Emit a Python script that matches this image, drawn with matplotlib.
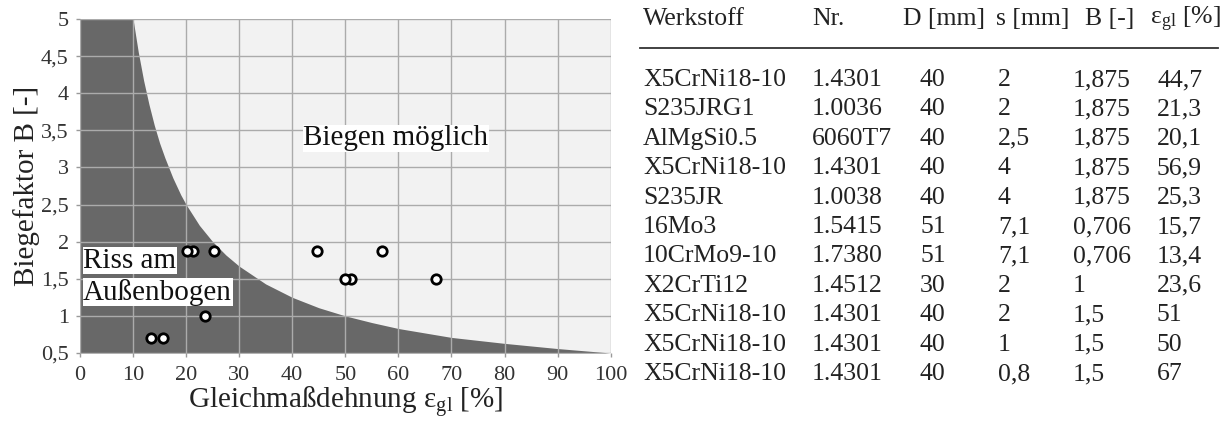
import matplotlib
matplotlib.use('Agg')
import matplotlib.pyplot as plt

plt.rcParams['font.family'] = ['Liberation Serif', 'DejaVu Serif']
plt.rcParams['mathtext.fontset'] = 'custom'
plt.rcParams['mathtext.rm'] = 'Liberation Serif'
plt.rcParams['mathtext.it'] = 'Liberation Serif:italic'

# boundary between "crack" and "bend ok" zones
limit_eps = [0, 10, 11, 12, 13, 14, 15, 16, 17.5, 19, 20, 22.5, 25, 27.5, 30, 35,
             40, 45, 50, 55, 60, 65, 70, 80, 90, 100]
limit_b = [5.0, 5.0, 4.55, 4.17, 3.85, 3.57, 3.33, 3.13, 2.86, 2.63, 2.5, 2.22, 2.0,
           1.82, 1.67, 1.43, 1.25, 1.11, 1.0, 0.91, 0.83, 0.77, 0.71, 0.63, 0.56, 0.5]

# test table
werkstoff = ['X5CrNi18-10', 'S235JRG1', 'AlMgSi0.5', 'X5CrNi18-10', 'S235JR', '16Mo3',
             '10CrMo9-10', 'X2CrTi12', 'X5CrNi18-10', 'X5CrNi18-10', 'X5CrNi18-10']
nr = ['1.4301', '1.0036', '6060T7', '1.4301', '1.0038', '1.5415', '1.7380', '1.4512',
      '1.4301', '1.4301', '1.4301']
d_mm = ['40', '40', '40', '40', '40', '51', '51', '30', '40', '40', '40']
s_mm = ['2', '2', '2,5', '4', '4', '7,1', '7,1', '2', '2', '1', '0,8']
b_val = ['1,875', '1,875', '1,875', '1,875', '1,875', '0,706', '0,706', '1', '1,5', '1,5', '1,5']
eps_gl = ['44,7', '21,3', '20,1', '56,9', '25,3', '15,7', '13,4', '23,6', '51', '50', '67']

x_ticks = [0, 10, 20, 30, 40, 50, 60, 70, 80, 90, 100]
y_ticks = [0.5, 1, 1.5, 2, 2.5, 3, 3.5, 4, 4.5, 5]
y_tick_labels = ['0,5', '1', '1,5', '2', '2,5', '3', '3,5', '4', '4,5', '5']

pts_x = [float(v.replace(',', '.')) for v in eps_gl]
pts_y = [float(v.replace(',', '.')) for v in b_val]

fig = plt.figure(figsize=(12.3, 4.21), dpi=100)
ax = fig.add_axes([0.065, 0.1615, 0.4315, 0.7935])

ax.set_facecolor('#f2f2f2')
ax.fill_between(limit_eps, 0.5, limit_b, color='#686868', lw=0, zorder=1)
ax.scatter(pts_x, pts_y, s=46, facecolor='white', edgecolor='black', linewidths=2.0, zorder=4)

ax.set_xlim(0, 100)
ax.set_ylim(0.5, 5)
ax.set_xticks(x_ticks)
ax.set_yticks(y_ticks)
ax.set_yticklabels(y_tick_labels)
ax.grid(True, color='#ababab', lw=1.0)
ax.set_axisbelow(False)
for sp in ax.spines.values():
    sp.set_visible(False)
ax.tick_params(axis='both', length=3, width=1, color='#999999', labelsize=16,
               labelcolor='#333333')
ax.tick_params(axis='x', pad=6)
ax.tick_params(axis='y', pad=5)

ax.set_xlabel(r'Gleichmaßdehnung $\mathrm{\varepsilon}_{\mathrm{gl}}$ [%]',
              fontsize=21, color='#222222', labelpad=0)
ax.set_ylabel('Biegefaktor B [-]', fontsize=21, color='#222222', labelpad=1)

box = dict(facecolor='white', edgecolor='none', pad=0.5)
ax.text(59.5, 3.39, 'Biegen möglich', fontsize=21, ha='center', va='center',
        bbox=box, zorder=5, color='#111111')
ax.text(0.6, 1.745, 'Riss am', fontsize=21, ha='left', va='center',
        bbox=box, zorder=5, color='#111111')
ax.text(0.6, 1.32, 'Außenbogen', fontsize=21, ha='left', va='center',
        bbox=box, zorder=5, color='#111111')

# table on the right, positions in figure pixels
W, H = 1230.0, 421.0
fs = 18.5
headers = ['Werkstoff', 'Nr.', 'D [mm]', 's [mm]', 'B [-]',
           r'$\mathrm{\varepsilon}_{\mathrm{gl}}$ [%]']
head_x = [643, 812, 903, 996, 1085, 1150]
col_x = [643, 812, 920, 998, 1073, 1157]
for hx, h in zip(head_x, headers):
    fig.text(hx / W, 1 - 19 / H, h, fontsize=fs, ha='left', va='center', color='#222222')

fig.add_artist(plt.Line2D([640 / W, 1218 / W], [1 - 48 / H, 1 - 48 / H],
                          color='#333333', lw=1.3))

cols = [werkstoff, nr, d_mm, s_mm, b_val, eps_gl]
for i in range(len(werkstoff)):
    y = 80 + 29.4 * i
    for cx, col in zip(col_x, cols):
        fig.text(cx / W, 1 - y / H, col[i], fontsize=fs, ha='left', va='center',
                 color='#222222')

fig.savefig('out.png', dpi=100, facecolor='white')
